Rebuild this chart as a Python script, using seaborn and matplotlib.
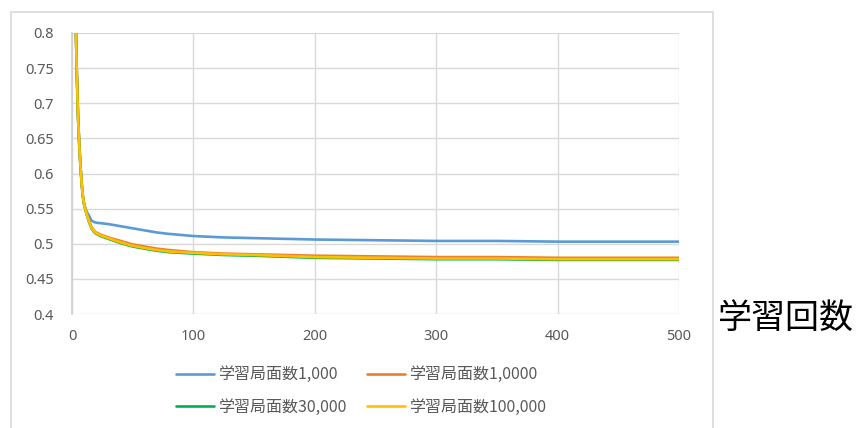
import numpy as np
import pandas as pd
import matplotlib
matplotlib.use("Agg")
import matplotlib.pyplot as plt
import seaborn as sns
from matplotlib.patches import Rectangle

# Training iterations and loss values for each number of training positions
iterations = [1, 2, 3, 4, 5, 6, 7, 8, 9, 10, 12, 14, 16, 18, 20, 25, 30, 40, 50,
              60, 70, 80, 100, 125, 150, 200, 250, 300, 350, 400, 450, 500]
loss_1000 = [1.2, 0.95, 0.82, 0.74, 0.68, 0.64, 0.61, 0.585, 0.567, 0.556, 0.546,
             0.540, 0.533, 0.531, 0.530, 0.529, 0.528, 0.525, 0.522, 0.519, 0.516,
             0.514, 0.511, 0.509, 0.508, 0.506, 0.505, 0.504, 0.504, 0.503, 0.503, 0.503]
loss_10000 = [1.2, 0.95, 0.82, 0.74, 0.68, 0.64, 0.61, 0.585, 0.567, 0.556, 0.543,
              0.533, 0.524, 0.519, 0.516, 0.512, 0.509, 0.504, 0.499, 0.496, 0.493,
              0.491, 0.488, 0.486, 0.485, 0.483, 0.482, 0.481, 0.481, 0.480, 0.480, 0.480]
loss_30000 = [1.2, 0.95, 0.82, 0.74, 0.68, 0.64, 0.61, 0.585, 0.567, 0.556, 0.542,
              0.531, 0.522, 0.517, 0.514, 0.510, 0.507, 0.501, 0.496, 0.493, 0.490,
              0.488, 0.486, 0.484, 0.483, 0.480, 0.479, 0.478, 0.478, 0.477, 0.477, 0.477]
loss_100000 = [1.2, 0.95, 0.82, 0.74, 0.68, 0.64, 0.61, 0.585, 0.567, 0.556, 0.543,
               0.532, 0.523, 0.518, 0.515, 0.511, 0.508, 0.502, 0.497, 0.494, 0.491,
               0.489, 0.487, 0.485, 0.484, 0.481, 0.480, 0.479, 0.479, 0.478, 0.478, 0.478]

series_names = ["学習局面数1,000", "学習局面数1,0000", "学習局面数30,000", "学習局面数100,000"]
series_colors = ["#5B9BD5", "#ED7D31", "#00B050", "#FFC000"]
x_ticks = [0, 100, 200, 300, 400, 500]
y_ticks = [0.4, 0.45, 0.5, 0.55, 0.6, 0.65, 0.7, 0.75, 0.8]
y_tick_labels = ["0.4", "0.45", "0.5", "0.55", "0.6", "0.65", "0.7", "0.75", "0.8"]

frames = []
for name, vals in zip(series_names, [loss_1000, loss_10000, loss_30000, loss_100000]):
    frames.append(pd.DataFrame({"iter": iterations, "loss": vals, "series": name}))
df = pd.concat(frames, ignore_index=True)

sns.set_theme(style="white")
plt.rcParams["font.family"] = ["Noto Sans CJK JP", "DejaVu Sans"]

fig = plt.figure(figsize=(8.57, 4.28), dpi=100)
ax = fig.add_axes([72 / 857, 1 - 314 / 428, (679 - 72) / 857, (314 - 33) / 428])

# Outer chart frame
fig.patches.append(Rectangle((11 / 857, -0.1), (713 - 11) / 857, 1.1 - 12 / 428,
                             transform=fig.transFigure, fill=False,
                             edgecolor="#D9D9D9", linewidth=1.2, zorder=0))

sns.lineplot(data=df, x="iter", y="loss", hue="series", hue_order=series_names,
             palette=series_colors, linewidth=1.9, ax=ax, legend=False)

ax.set_xlim(0, 500)
ax.set_ylim(0.4, 0.8)
ax.set_xticks(x_ticks)
ax.set_yticks(y_ticks)
ax.set_yticklabels(y_tick_labels)
ax.grid(True, color="#D9D9D9", linewidth=1.0)
ax.set_axisbelow(True)
for side in ["top", "right", "bottom"]:
    ax.spines[side].set_visible(False)
ax.spines["left"].set_color("#D0D0D0")
ax.tick_params(axis="both", length=0, labelsize=10.5, labelcolor="#595959")
ax.tick_params(axis="y", pad=13)
ax.tick_params(axis="x", pad=11)
for lab in ax.get_xticklabels() + ax.get_yticklabels():
    lab.set_family(["Noto Sans", "DejaVu Sans"])
ax.set_xlabel("")
ax.set_ylabel("")

# Legend filled row by row: two entries per row
handles = [plt.Line2D([], [], color=c, linewidth=1.9) for c in series_colors]
order = [0, 2, 1, 3]
leg = fig.legend([handles[i] for i in order], [series_names[i] for i in order],
                 ncol=2, loc="center",
                 bbox_to_anchor=(361 / 857, 1 - 391 / 428), frameon=False,
                 fontsize=11.5, handlelength=2.4, handletextpad=0.25,
                 columnspacing=1.3, labelspacing=0.95)
for t in leg.get_texts():
    t.set_color("#595959")

fig.text(786 / 857, 1 - 318 / 428, "学習回数", fontsize=24.5, color="black",
         ha="center", va="center")

fig.savefig("out.png", dpi=100)
